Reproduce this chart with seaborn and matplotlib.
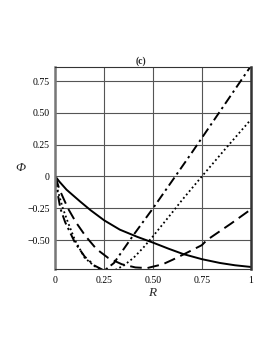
import numpy as np
import pandas as pd
import matplotlib
matplotlib.use("Agg")
import matplotlib.pyplot as plt
import seaborn as sns

# ---- data ----
r_solid = [0, 0.02, 0.057, 0.126, 0.18, 0.25, 0.33, 0.42, 0.5, 0.58, 0.655, 0.75, 0.843, 0.92, 1.0]
phi_solid = [0, -0.04, -0.104, -0.196, -0.265, -0.345, -0.418, -0.475, -0.52, -0.568, -0.61, -0.65, -0.68, -0.698, -0.711]

r_dashed = [0, 0.02, 0.064, 0.105, 0.155, 0.21, 0.27, 0.34, 0.41, 0.47, 0.55, 0.6, 0.66, 0.75, 0.776, 0.9, 1.0]
phi_dashed = [0, -0.1, -0.25, -0.36, -0.47, -0.57, -0.64, -0.69, -0.715, -0.72, -0.69, -0.655, -0.61, -0.54, -0.5, -0.37, -0.26]

r_dotted = [0, 0.01, 0.038, 0.064, 0.1, 0.15, 0.2, 0.25, 0.3, 0.35, 0.4, 0.45, 0.5, 0.6, 0.65, 0.75, 0.875, 1.0]
phi_dotted = [0, -0.1, -0.25, -0.36, -0.5, -0.64, -0.705, -0.74, -0.74, -0.70, -0.64, -0.56, -0.47, -0.28, -0.183, 0, 0.225, 0.445]

r_dashdot = [0, 0.01, 0.025, 0.05, 0.1, 0.15, 0.2, 0.25, 0.3, 0.35, 0.4, 0.5, 0.6, 0.7, 0.8, 0.9, 1.0]
phi_dashdot = [0, -0.12, -0.25, -0.36, -0.52, -0.63, -0.70, -0.74, -0.68, -0.57, -0.46, -0.25, -0.03, 0.19, 0.415, 0.64, 0.865]

x_ticks = [0, 0.25, 0.5, 0.75, 1]
x_labels = ["0", "0.25", "0.50", "0.75", "1"]
y_ticks = [-0.5, -0.25, 0, 0.25, 0.5, 0.75]
y_labels = ["\u22120.50", "\u22120.25", "0", "0.25", "0.50", "0.75"]

sns.set_style("white")
plt.rcParams['font.family'] = ['Liberation Serif', 'DejaVu Serif']

fig = plt.figure(figsize=(2.73, 3.53), dpi=100)
ax = fig.add_axes([0.203, 0.237, 0.715, 0.573])

series = [
    (r_solid, phi_solid, dict(linestyle="-", linewidth=1.4)),
    (r_dashed, phi_dashed, dict(linestyle=(0, (6, 3)), linewidth=1.4)),
    (r_dotted, phi_dotted, dict(linestyle=(0, (1, 1.5)), linewidth=1.3)),
    (r_dashdot, phi_dashdot, dict(linestyle=(0, (5, 2, 1.2, 2)), linewidth=1.4)),
]
for r, phi, style in series:
    df = pd.DataFrame({"R": r, "Phi": phi})
    sns.lineplot(data=df, x="R", y="Phi", ax=ax, color="black", sort=False,
                 estimator=None, **style)

ax.set_xlim(0, 1)
ax.set_ylim(-0.73, 0.86)
ax.set_xticks(x_ticks)
ax.set_xticklabels(x_labels)
ax.set_yticks(y_ticks)
ax.set_yticklabels(y_labels)
ax.tick_params(axis="both", length=0, labelsize=7, colors="black")
ax.tick_params(axis="x", pad=5)
ax.tick_params(axis="y", pad=4)

ax.grid(True, color="#555555", linewidth=0.8)
ax.set_axisbelow(True)
for side in ["top", "bottom"]:
    ax.spines[side].set_color("#333333")
    ax.spines[side].set_linewidth(0.8)
ax.spines["left"].set_color("#777777")
ax.spines["left"].set_linewidth(1.8)
ax.spines["right"].set_color("#333333")
ax.spines["right"].set_linewidth(1.8)

ax.set_xlabel("R", fontsize=9.5, fontstyle="italic")
ax.xaxis.set_label_coords(0.494, -0.085)
ax.set_ylabel("\u03A6", fontsize=9.5, fontstyle="italic", rotation=0, va="center", ha="center")
ax.yaxis.set_label_coords(-0.177, 0.5)

ax.text(0.44, 1.004, "(c)", transform=ax.transAxes, ha="center", va="bottom",
        fontsize=7, fontweight="bold")

fig.savefig("out.png", dpi=100, facecolor="white")
